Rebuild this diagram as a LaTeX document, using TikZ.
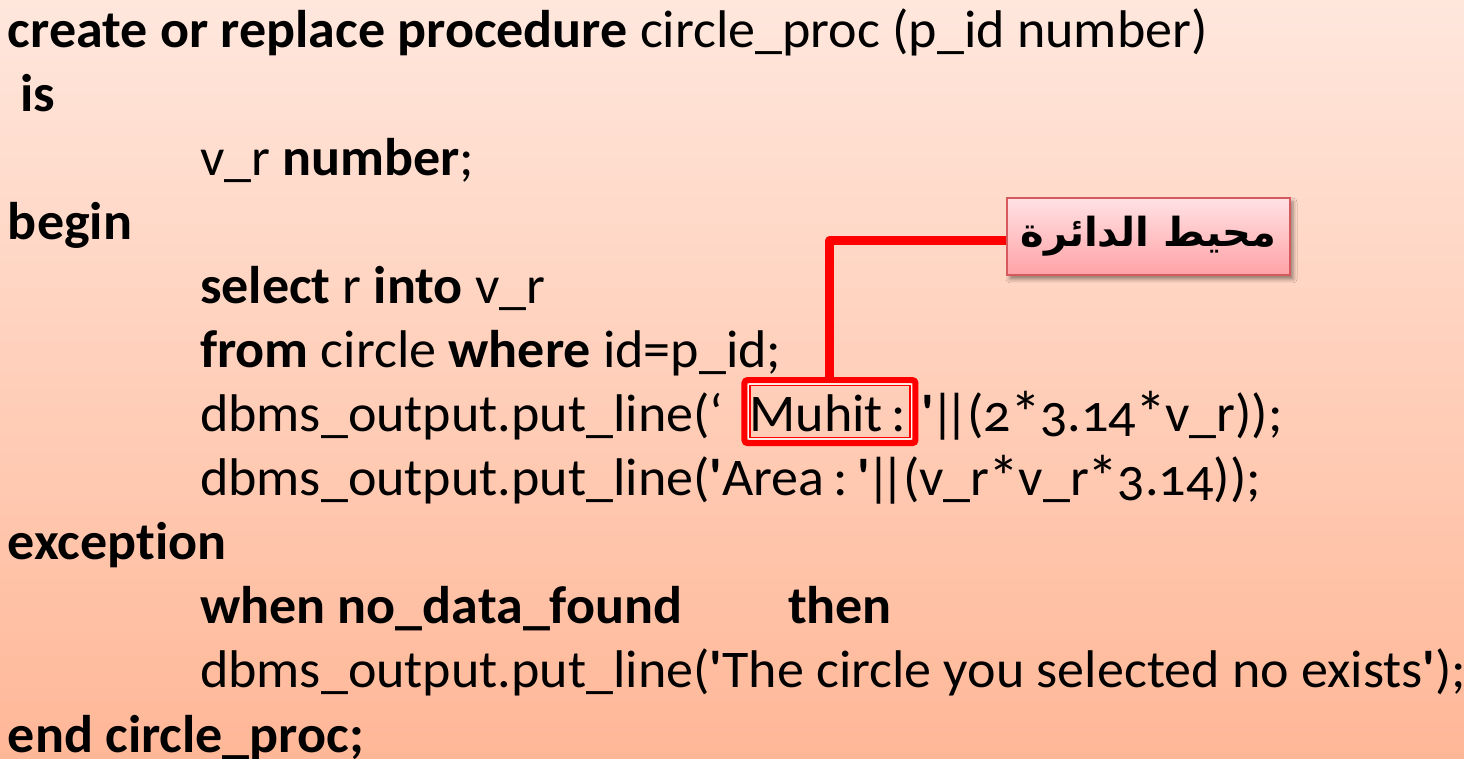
\documentclass[tikz,border=0pt]{standalone}
\usepackage{fontspec}
\setmainfont{Carlito}[FakeStretch=1.02,Numbers=OldStyle,Ligatures=NoCommon]
\newfontfamily\arabicfont[Script=Arabic]{DejaVu Sans}
\TeXXeTstate=1
\usetikzlibrary{shadows.blur}
\definecolor{bgtop}{HTML}{FFE7DD}
\definecolor{bgbot}{HTML}{FFB797}
\definecolor{calltop}{HTML}{FFE2E4}
\definecolor{callbot}{HTML}{FFA2A6}
\definecolor{callline}{HTML}{D45A5D}
\definecolor{hilite}{HTML}{FF0000}
\newcommand\sq{\textbf{\textquotesingle}}
\newcommand\dbar{\kern-3pt|\kern-11pt|\kern-2pt}
\newcommand\mul{\kern-1pt\raisebox{-3pt}{\scalebox{1.15}{*}}\kern-1pt}
\newcommand\nsp{\kern9pt}
\tikzset{
  code/.style={anchor=base west, inner sep=0pt, outer sep=0pt,
    font=\fontsize{53pt}{64pt}\selectfont, text=black},
  markbox/.style={draw=hilite, line width=6pt, rounded corners=3pt,
    inner sep=0pt, outer sep=0pt, minimum height=63pt,
    text height=40pt, text depth=0pt, anchor=base west,
    font=\fontsize{53pt}{64pt}\selectfont},
  callout/.style={draw=callline, line width=1.2pt, top color=calltop,
    bottom color=callbot, minimum width=283pt, minimum height=77pt,
    inner sep=0pt,
    blur shadow={shadow xshift=3pt, shadow yshift=-4pt,
      shadow blur radius=4pt, shadow opacity=45},
    font=\arabicfont\bfseries\fontsize{40pt}{46pt}\selectfont},
  leader/.style={draw=hilite, line width=9pt, line join=round}
}
\begin{document}
\begin{tikzpicture}[x=1pt,y=1pt]
% page background
\shade[top color=bgtop, bottom color=bgbot] (0,0) rectangle (1464,759);
\useasboundingbox (0,0) rectangle (1464,759);

% procedure source
\node[code] (l1) at (8,711.9) {\textbf{create or replace procedure} circle\_proc (p\_id number)};
\node[code] (l2) at (8,647.9) {\ \textbf{is}};
\node[code] (l3) at (200,583.8) {v\_r \textbf{number};};
\node[code] (l4) at (8,519.7) {\textbf{begin}};
\node[code] (l5) at (200,455.6) {\textbf{select} r \textbf{into} v\_r};
\node[code] (l6) at (200,391.5) {\textbf{from} circle \textbf{where} id=p\_id;};
\node[code] (l7) at (200,327.4) {dbms\_output.put\_line(‘};
\node[markbox] (muhit) at ([xshift=21pt]l7.base east)
  {\makebox[171pt][l]{\hspace{5pt}Muhit\nsp:}};
\node[code] (l7b) at ([xshift=6pt]muhit.base east) {\sq\dbar(2\mul3.14\mul v\_r));};
\node[code] (l8) at (200,263.3) {dbms\_output.put\_line(\sq Area\nsp:\nsp\sq\dbar(v\_r\mul v\_r\mul3.14));};
\node[code] (l9) at (8,199.2) {\textbf{exception}};
\node[code] (l10) at (200,135.1) {\textbf{when no\_data\_found}};
\node[code] (l10b) at (788,135.1) {\textbf{then}};
\node[code] (l11) at (200,71) {dbms\_output.put\_line(\sq The circle you selected no exists\sq);};
\node[code] (l12) at (8,6.9) {\textbf{end circle\_proc;}};

% inner frame of the highlight box
\draw[white, line width=1.2pt, rounded corners=1pt]
  ([shift={(4pt,4pt)}]muhit.south west) rectangle ([shift={(-4pt,-4pt)}]muhit.north east);
\draw[hilite, line width=1.4pt]
  ([shift={(5.5pt,5.5pt)}]muhit.south west) rectangle ([shift={(-5.5pt,-5.5pt)}]muhit.north east);

% Arabic callout and its leader line
\node[callout] (arab) at (1148.5,522.5) {\beginR محيط الدائرة\endR};
\draw[leader] ([yshift=-4pt]arab.west) -| (muhit.north);
\end{tikzpicture}
\end{document}
